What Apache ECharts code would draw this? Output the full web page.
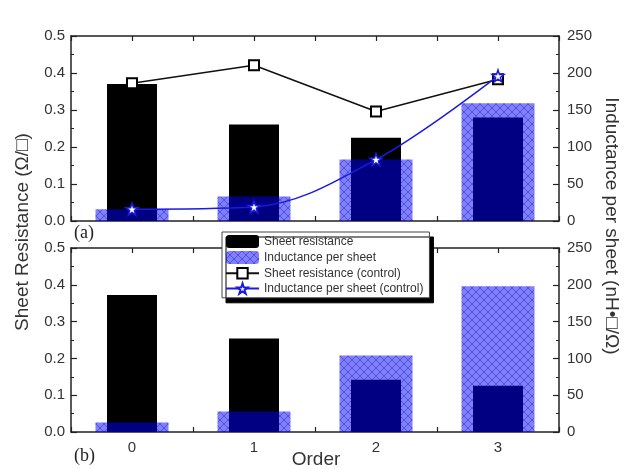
<!DOCTYPE html>
<html><head><meta charset="utf-8">
<script src="https://cdn.jsdelivr.net/npm/echarts@6/dist/echarts.min.js"></script>
<style>html,body{margin:0;padding:0;background:#fff}#c{width:626px;height:469px}</style>
</head><body><div id="c"></div>
<script>
// ---- data ----
const orders = [0, 1, 2, 3];
const resA = [0.370, 0.261, 0.225, 0.280];          // sheet resistance (a), Ω/□
const indA = [16, 33, 83, 159];                     // inductance per sheet (a), nH·□/Ω
const resCtrl = [0.372, 0.421, 0.296, 0.383];       // sheet resistance (control)
const indCtrl = [16, 19, 83, 196];                  // inductance per sheet (control)
const resB = [0.372, 0.254, 0.142, 0.126];          // sheet resistance (b)
const indB = [13, 28, 104, 198];                    // inductance per sheet (b)
const leftTicks = [0, 0.1, 0.2, 0.3, 0.4, 0.5];
const rightTicks = [0, 50, 100, 150, 200, 250];
const names = ['Sheet resistance', 'Inductance per sheet', 'Sheet resistance (control)', 'Inductance per sheet (control)'];

// hatch pattern
const pc = document.createElement('canvas');
pc.width = 8; pc.height = 8;
const g = pc.getContext('2d');
g.fillStyle = 'rgba(0,0,255,0.5)';
g.fillRect(0, 0, 8, 8);
g.strokeStyle = 'rgba(0,0,140,0.35)';
g.lineWidth = 1;
g.beginPath();
g.moveTo(-1, -1); g.lineTo(9, 9);
g.moveTo(9, -1); g.lineTo(-1, 9);
g.stroke();
const hatch = { image: pc, repeat: 'repeat' };

const star = 'path://M0,-10 L2.35,-3.24 L9.51,-3.09 L3.8,1.24 L5.88,8.09 L0,4 L-5.88,8.09 L-3.8,1.24 L-9.51,-3.09 L-2.35,-3.24 Z';
const FONT = 'Liberation Sans';
const AX = '#222';
const TXT = '#333';

const grids = [
  { left: 71, right: 67, top: 36, height: 185 },
  { left: 71, right: 67, top: 248, height: 184 }
];

const xAxes = [], yAxes = [];
for (let gi = 0; gi < 2; gi++) {
  const common = { type: 'value', gridIndex: gi, min: -0.5, max: 3.5, interval: 0.5 };
  xAxes.push(Object.assign({}, common, {
    position: 'bottom',
    axisLine: { show: true, onZero: false, lineStyle: { color: AX, width: 1.5 } },
    axisTick: { show: true, inside: true, length: 5, lineStyle: { color: AX, width: 1.2 } },
    splitLine: { show: false },
    axisLabel: {
      show: gi === 1, margin: 8, color: TXT, fontFamily: FONT, fontSize: 15,
      formatter: v => (Number.isInteger(v) && orders.indexOf(v) >= 0) ? String(v) : ''
    }
  }));
  xAxes.push(Object.assign({}, common, { show: false }));
  xAxes.push(Object.assign({}, common, {
    position: 'top',
    axisLine: { show: true, onZero: false, lineStyle: { color: AX, width: 1.5 } },
    axisTick: { show: true, inside: true, length: 5, lineStyle: { color: AX, width: 1.2 } },
    splitLine: { show: false }, axisLabel: { show: false }
  }));
  yAxes.push({
    type: 'value', gridIndex: gi, position: 'left', min: leftTicks[0], max: leftTicks[leftTicks.length - 1], interval: 0.1,
    axisLine: { show: true, onZero: false, lineStyle: { color: AX, width: 1.5 } },
    axisTick: { show: true, inside: true, length: 6, lineStyle: { color: AX, width: 1.2 } },
    minorTick: { show: true, splitNumber: 2, length: 3, lineStyle: { color: AX, width: 1 } },
    splitLine: { show: false },
    axisLabel: { color: TXT, fontFamily: FONT, fontSize: 15, margin: 6, formatter: v => v.toFixed(1) }
  });
  yAxes.push({
    type: 'value', gridIndex: gi, position: 'right', min: rightTicks[0], max: rightTicks[rightTicks.length - 1], interval: 50,
    axisLine: { show: true, onZero: false, lineStyle: { color: AX, width: 1.5 } },
    axisTick: { show: true, inside: true, length: 6, lineStyle: { color: AX, width: 1.2 } },
    minorTick: { show: true, splitNumber: 2, length: 3, lineStyle: { color: AX, width: 1 } },
    splitLine: { show: false },
    axisLabel: { color: TXT, fontFamily: FONT, fontSize: 15, margin: 8 }
  });
}

const pairs = (xs, ys) => xs.map((x, i) => [x, ys[i]]);

const series = [];
[[resA, indA], [resB, indB]].forEach((d, gi) => {
  series.push({
    name: names[0], type: 'bar', xAxisIndex: gi * 3, yAxisIndex: gi * 2,
    barWidth: 50, data: pairs(orders, d[0]),
    itemStyle: { color: '#000' }, z: 2
  });
  series.push({
    name: names[1], type: 'bar', xAxisIndex: gi * 3 + 1, yAxisIndex: gi * 2 + 1,
    barWidth: 73, data: pairs(orders, d[1]),
    itemStyle: { color: hatch }, z: 3
  });
});
series.push({
  name: names[2], type: 'line', xAxisIndex: 0, yAxisIndex: 0,
  data: pairs(orders, resCtrl), symbol: 'rect', symbolSize: 10,
  lineStyle: { color: '#111', width: 1.5 },
  itemStyle: { color: '#fff', borderColor: '#000', borderWidth: 2 }, z: 5
});
series.push({
  name: names[3], type: 'line', xAxisIndex: 0, yAxisIndex: 1,
  data: pairs(orders, indCtrl), symbol: star, symbolSize: 12, smooth: 0.35,
  lineStyle: { color: '#1a1ae6', width: 1.5 },
  itemStyle: { color: '#fff', borderColor: '#1a1ae6', borderWidth: 1.5 }, z: 6
});

const option = {
  animation: false,
  backgroundColor: '#fff',
  grid: grids,
  xAxis: xAxes,
  yAxis: yAxes,
  legend: {
    orient: 'vertical', left: 222, top: 232,
    data: names,
    itemWidth: 33, itemHeight: 13, itemGap: 3,
    padding: [3, 6, 3, 3],
    backgroundColor: '#fff', borderColor: '#444', borderWidth: 1,
    shadowColor: '#000', shadowBlur: 0, shadowOffsetX: 4, shadowOffsetY: 5,
    textStyle: { color: '#333', fontFamily: FONT, fontSize: 12 },
    selectedMode: false
  },
  graphic: [
    { type: 'text', x: 23, y: 232, rotation: Math.PI / 2,
      style: { text: 'Sheet Resistance (Ω/□)', font: '19px "Liberation Sans"', fill: TXT, align: 'center', verticalAlign: 'middle' } },
    { type: 'text', x: 611, y: 226, rotation: -Math.PI / 2,
      style: { text: 'Inductance per sheet (nH•□/Ω)', font: '19px "Liberation Sans"', fill: TXT, align: 'center', verticalAlign: 'middle' } },
    { type: 'text', x: 316, y: 460,
      style: { text: 'Order', font: '19px "Liberation Sans"', fill: TXT, align: 'center', verticalAlign: 'middle' } },
    { type: 'text', x: 74, y: 233,
      style: { text: '(a)', font: '18px "Liberation Serif"', fill: '#222', verticalAlign: 'middle' } },
    { type: 'text', x: 74, y: 456,
      style: { text: '(b)', font: '18px "Liberation Serif"', fill: '#222', verticalAlign: 'middle' } }
  ],
  series: series
};

const chart = echarts.init(document.getElementById('c'), null, { renderer: 'canvas' });
chart.setOption(option);
</script>
</body></html>
